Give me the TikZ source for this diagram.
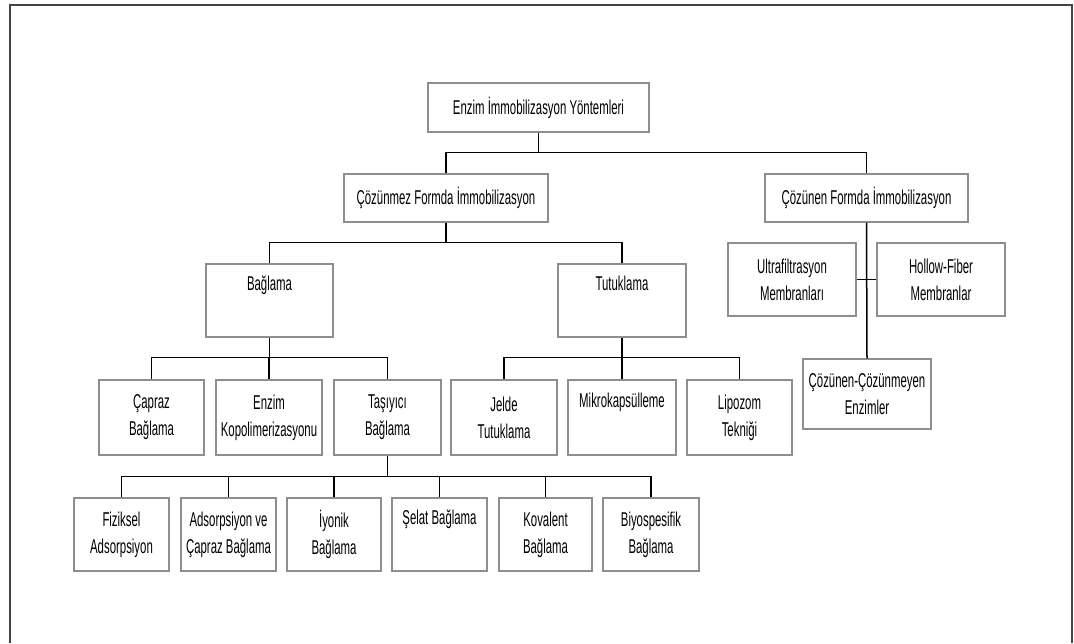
\documentclass[tikz,border=0pt]{standalone}
\usepackage{fontspec}
\setmainfont[FakeStretch=0.57]{Liberation Sans}
\definecolor{boxgray}{HTML}{8E8E8E}
\definecolor{framegray}{HTML}{444444}

\begin{document}
\begin{tikzpicture}[x=1pt, y=-1pt,
    box/.style={draw=boxgray, line width=1.4pt, fill=white, align=center, inner sep=2pt,
        font=\fontsize{20}{27}\selectfont},
    link/.style={line width=1.5pt, black}]
% Define row heights and bus drop
\def\rowh{73}
\def\drop{20}

\useasboundingbox (0,0) rectangle (1074,643);

% Frame
\draw[line width=2pt, framegray] (10,643) -- (10,5) -- (1072,5) -- (1072,643);

% Top levels
\node[box, minimum width=221, minimum height=49] (root) at (538.5,107.5) {Enzim İmmobilizasyon Yöntemleri};
\node[box, minimum width=204, minimum height=48] (cozmez) at (446,198) {Çözünmez Formda İmmobilizasyon};
\node[box, minimum width=203, minimum height=48] (cozen) at (866.5,198) {Çözünen Formda İmmobilizasyon};

% Insoluble side
\node[box, minimum width=127, minimum height=\rowh] (bag) at (269.5,300.5) {Bağlama\\\strut};
\node[box, minimum width=128, minimum height=\rowh] (tut) at (622,300.5) {Tutuklama\\\strut};

\node[box, minimum width=105, minimum height=75] (capraz) at (151.5,417.5) {Çapraz\\Bağlama};
\node[box, minimum width=106, minimum height=75] (kopol) at (269,417.5) {Enzim\\Kopolimerizasyonu};
\node[box, minimum width=107, minimum height=75] (tasiyici) at (387.5,417.5) {Taşıyıcı\\Bağlama};
\node[box, minimum width=106, minimum height=75] (jelde) at (504,417.5) {Jelde\\Tutuklama};
\node[box, minimum width=108, minimum height=75] (mikro) at (622,417.5) {Mikrokapsülleme\\\strut};
\node[box, minimum width=105, minimum height=75] (lipozom) at (739.5,417.5) {Lipozom\\Tekniği};

% Carrier binding
\node[box, minimum width=95, minimum height=\rowh] (fiziksel) at (121.5,534.5) {Fiziksel\\Adsorpsiyon};
\node[box, minimum width=95, minimum height=\rowh] (adsve) at (228.5,534.5) {Adsorpsiyon ve\\Çapraz Bağlama};
\node[box, minimum width=94, minimum height=\rowh] (iyonik) at (334,534.5) {İyonik\\Bağlama};
\node[box, minimum width=95, minimum height=\rowh] (selat) at (439.5,534.5) {Şelat Bağlama\\\strut};
\node[box, minimum width=93, minimum height=\rowh] (kovalent) at (545.5,534.5) {Kovalent\\Bağlama};
\node[box, minimum width=96, minimum height=\rowh] (biyo) at (651,534.5) {Biyospesifik\\Bağlama};

% Soluble side
\node[box, minimum width=128, minimum height=\rowh] (ultra) at (792,279.5) {Ultrafiltrasyon\\Membranları};
\node[box, minimum width=128, minimum height=\rowh] (hollow) at (941,279.5) {Hollow-Fiber\\Membranlar};
\node[box, minimum width=128, minimum height=70] (cozcoz) at (867,394) {Çözünen-Çözünmeyen\\Enzimler};

% Connectors
\draw[link] (root.south) -- ++(0,\drop) coordinate (rootbus);
\foreach \c in {cozmez, cozen}
    \draw[link] (\c.north) |- (rootbus);

\draw[link] (cozmez.south) -- ++(0,\drop) coordinate (cozmezbus);
\foreach \c in {bag, tut}
    \draw[link] (\c.north) |- (cozmezbus);

\draw[link] (bag.south) -- ++(0,\drop) coordinate (bagbus);
\foreach \c in {capraz, kopol, tasiyici}
    \draw[link] (\c.north) |- (bagbus);

\draw[link] (tut.south) -- ++(0,\drop) coordinate (tutbus);
\foreach \c in {jelde, mikro, lipozom}
    \draw[link] (\c.north) |- (tutbus);

\draw[link] (tasiyici.south) -- ++(0,21) coordinate (tasbus);
\foreach \c in {fiziksel, adsve, iyonik, selat, kovalent, biyo}
    \draw[link] (\c.north) |- (tasbus);

\draw[link] (cozen.south) -- (cozcoz.north);
\draw[link] (ultra.east) -- (hollow.west);
\end{tikzpicture}
\end{document}
